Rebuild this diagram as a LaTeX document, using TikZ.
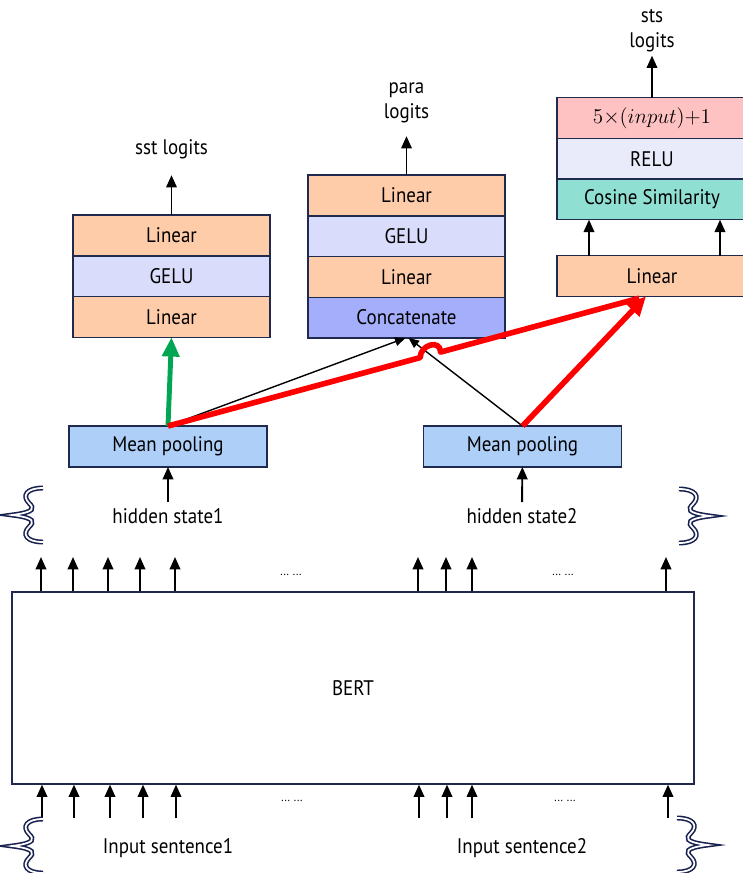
\documentclass[tikz,border=0pt]{standalone}
\usepackage{fontspec}
\setmainfont[FakeStretch=0.9]{PT Sans}
\usetikzlibrary{arrows.meta,positioning,calc}
\definecolor{mnavy}{HTML}{1F2A4E}
\definecolor{mpeach}{HTML}{FFCCAA}
\definecolor{mlav}{HTML}{D9DCFB}
\definecolor{mconc}{HTML}{A4AEFB}
\definecolor{mpink}{HTML}{FFC2C2}
\definecolor{mrelu}{HTML}{E9EBFB}
\definecolor{mcos}{HTML}{8FE0D3}
\definecolor{mpool}{HTML}{AECFF8}
\definecolor{mred}{HTML}{FF0000}
\definecolor{mgreen}{HTML}{00A651}
\definecolor{mbrace}{HTML}{17214F}
\tikzstyle{blk}=[draw=mnavy, line width=0.8pt, minimum width=3.94cm, minimum height=0.814cm, inner sep=0pt, outer sep=0pt]
\tikzstyle{lin}=[blk, fill=mpeach]
\tikzstyle{gelu}=[blk, fill=mlav]
\tikzstyle{pool}=[blk, fill=mpool, minimum width=3.96cm, minimum height=0.82cm]
\tikzstyle{lbl}=[inner sep=0pt, align=center]
\tikzstyle{arr}=[line width=1.1pt, -{Triangle[length=7pt,width=6pt]}]
\tikzstyle{thinarr}=[line width=0.8pt, -{Triangle[length=6pt,width=5pt]}]
\tikzstyle{redl}=[line width=3.2pt, color=mred]
\tikzstyle{brace}=[draw=mbrace, double=white, double distance=1pt, line width=0.9pt]

\begin{document}
\begin{tikzpicture}[x=0.02cm, y=-0.02cm, font=\fontsize{12}{14.2}\selectfont]
    \useasboundingbox (0,0) rectangle (743,873);

    % sst head
    \node (sstlin2) [lin] at (171.5,235.5) {Linear};
    \node (sstgelu) [gelu, below=0pt of sstlin2] {GELU};
    \node (sstlin1) [lin, below=0pt of sstgelu] {Linear};
    \coordinate (ssttip) at ($(sstlin2.north)+(0,-40)$);
    \node (sst) [lbl, above=0.32cm of ssttip] {sst logits};
    \draw[arr] (sstlin2.north) -- (ssttip);

    % para head
    \node (paralin2) [lin] at (406.5,195.5) {Linear};
    \node (paragelu) [gelu, below=0pt of paralin2] {GELU};
    \node (paralin1) [lin, below=0pt of paragelu] {Linear};
    \node (paracat) [blk, fill=mconc, below=0pt of paralin1] {Concatenate};
    \coordinate (paratip) at ($(paralin2.north)+(0,-39)$);
    \node (para) [lbl, above=0.26cm of paratip] {para\\logits};
    \draw[arr] (paralin2.north) -- (paratip);

    % sts head
    \node (stsfun) [blk, fill=mpink, minimum width=3.8cm] at (652,118) {$5{\times}(input){+}1$};
    \node (stsrelu) [blk, fill=mrelu, minimum width=3.8cm, below=0pt of stsfun] {RELU};
    \node (stscos) [blk, fill=mcos, minimum width=3.8cm, below=0pt of stsrelu] {Cosine Similarity};
    \node (stslin) [lin, minimum width=3.8cm] at (652,276) {Linear};
    \coordinate (ststip) at ($(stsfun.north)+(0,-42)$);
    \node (sts) [lbl, above=0.06cm of ststip] {sts\\logits};
    \draw[arr] (stsfun.north) -- (ststip);
    \draw[arr] ($(stslin.north)+(-63,0)$) -- ($(stscos.south)+(-63,0)$);
    \draw[arr] ($(stslin.north)+(68,0)$) -- ($(stscos.south)+(68,0)$);

    % pooling
    \node (mp1) [pool] at (168,446.5) {Mean pooling};
    \node (mp2) [pool] at (522.5,446.5) {Mean pooling};
    \node (hs1) at (168,516) {hidden state1};
    \node (hs2) at (522,516) {hidden state2};
    \draw[arr] (hs1) -- (mp1);
    \draw[arr] (hs2) -- (mp2);

    % heads links
    \coordinate (cat1) at ($(paracat.south)+(-1,0)$);
    \coordinate (cat2) at ($(paracat.south)+(2,0)$);
    \coordinate (ststo) at ($(stslin.south)+(-6,0)$);
    \coordinate (jx) at (intersection of mp1.north--ststo and mp2.north--cat2);
    \draw[thinarr] (mp1.north) -- (cat1);
    \draw[thinarr] (mp2.north) -- (cat2);
    \draw[line width=2.8pt, color=mgreen, -{Triangle[length=11pt,width=9.5pt]}] (mp1.north) -- (sstlin1.south);
    \draw[redl, line join=round] (mp1.north) -- ($(jx)!6pt!(mp1.north)$)
        .. controls +(0,-13) and +(0,-13) .. ($(jx)!6pt!(ststo)$) -- ($(ststo)!4pt!(jx)$);
    \draw[redl, -{Triangle[length=11pt,width=10pt]}] (mp2.north) -- (ststo);

    % bert
    \node (bert) [draw=mnavy, line width=0.7pt, minimum width=13.64cm, minimum height=3.84cm, inner sep=0pt] at (353,688) {BERT};
    \foreach \x in {41,73,108,140,175,418,446,472,666}
        \draw[arr] (\x,0 |- bert.north) -- (\x,557);
    \foreach \x in {42,74,110,143,176,419,447,472,668}
        \draw[arr] (\x,818) -- (\x,0 |- bert.south);
    \node (dots1) at (291,575) {\scriptsize ... ...};
    \node (dots2) at (563,575) {\scriptsize ... ...};
    \node (dots3) at (292,801) {\scriptsize ... ...};
    \node (dots4) at (565,801) {\scriptsize ... ...};
    \node (in1) at (168,848) {Input sentence1};
    \node (in2) at (522,848) {Input sentence2};

    % braces
    \foreach \bx/\by/\bs in {12/515/1, 710/516/-1, 12/846/1, 708/845/-1} {
        \begin{scope}[shift={(\bx,\by)}, xscale=\bs]
        \draw[brace] (31,-27) .. controls (14,-27) and (10,-19) .. (17,-12)
            .. controls (22,-7) and (24,-3) .. (0,0)
            .. controls (24,3) and (22,7) .. (17,12)
            .. controls (10,19) and (14,27) .. (31,27);
        \end{scope}
    }
\end{tikzpicture}
\end{document}
